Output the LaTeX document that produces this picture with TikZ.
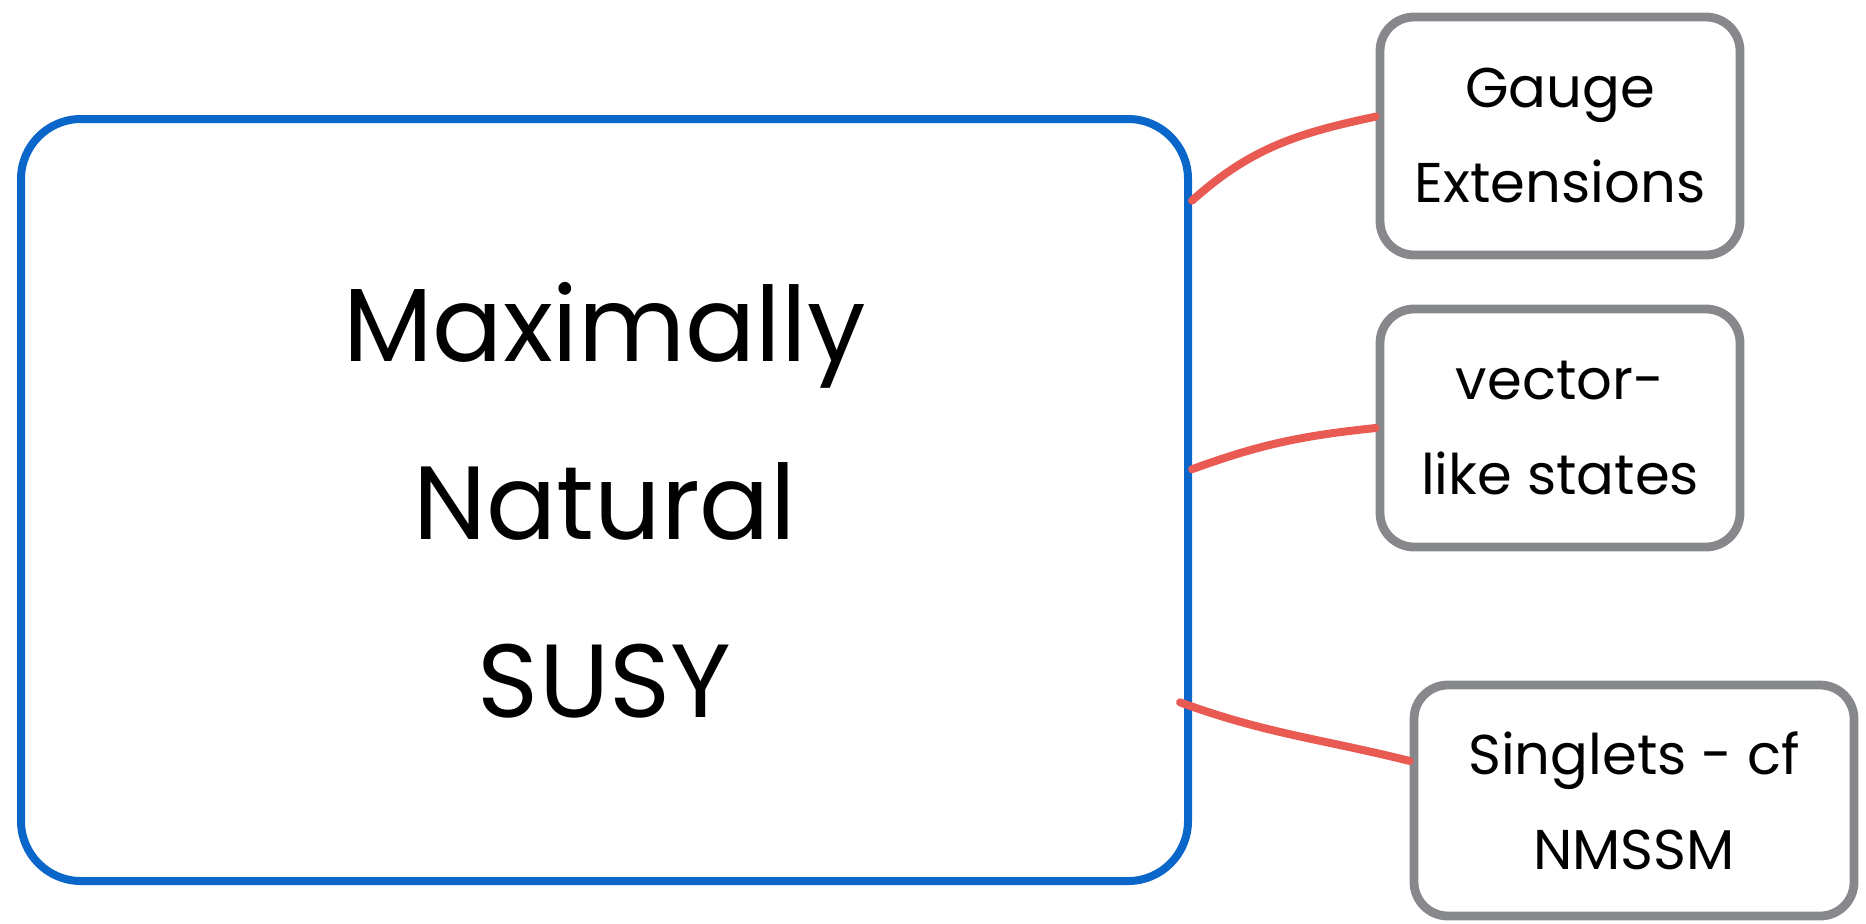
\documentclass[tikz,border=0pt]{standalone}
\usepackage{fontspec}
\setmainfont{Poppins}
\definecolor{sblue}{RGB}{10,102,200}
\definecolor{sgrey}{RGB}{134,136,140}
\definecolor{sred}{RGB}{232,90,82}
\begin{document}
\begin{tikzpicture}[x=0.5pt,y=-0.5pt,
  mainbox/.style={draw=sblue, line width=4pt, rounded corners=30pt,
    minimum width=583.5pt, minimum height=381pt, inner sep=0pt,
    align=center, font=\fontsize{52}{89}\selectfont},
  sidebox/.style={draw=sgrey, line width=4.4pt, rounded corners=17pt,
    minimum width=180pt, minimum height=119pt, inner sep=0pt,
    align=center, font=\fontsize{28}{47.5}\selectfont},
  link/.style={draw=sred, line width=4pt, line cap=round}]
\useasboundingbox (0,0) rectangle (1866,923);
\node[mainbox] (main) at (604.5,500) {Maximally\\Natural\\SUSY};
\node[sidebox] (gauge) at (1560,136) {Gauge\\Extensions};
\node[sidebox] (vec) at (1560,428) {vector-\\like states};
\node[sidebox, minimum width=220pt, minimum height=115.5pt] (sing) at (1634,800.5) {Singlets - cf\\NMSSM};
\draw[link] (main.27.4) to[out=42, in=192] (gauge.174.6);
\draw[link] (main.3.2) to[out=20, in=186] (vec.west);
\draw[link] ([xshift=-6pt]main.-19) to[out=-20, in=166] (sing.170.1);
\end{tikzpicture}
\end{document}
